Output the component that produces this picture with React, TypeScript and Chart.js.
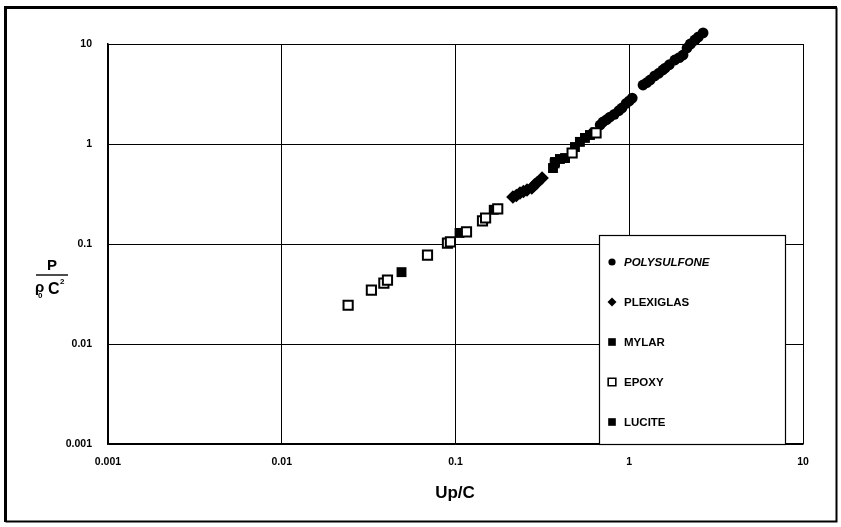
import React, { useEffect, useRef } from "react";
import { Chart, registerables } from "chart.js";

Chart.register(...registerables);

// Axis ticks (decades on both log axes)
const tickValues = [0.001, 0.01, 0.1, 1, 10];
const tickLabels = ["0.001", "0.01", "0.1", "1", "10"];

// Normalised shock data: Up/C versus P/(rho0 C^2)
const polysulfoneX = [0.62, 0.68, 0.706, 0.74, 0.774, 0.82, 0.87, 0.908, 0.96, 1.0, 1.04, 1.2, 1.26, 1.32, 1.4, 1.48, 1.56, 1.61, 1.7, 1.83, 1.94, 2.04, 2.15, 2.25, 2.39, 2.5, 2.66];
const polysulfoneY = [1.3, 1.55, 1.66, 1.75, 1.86, 1.98, 2.15, 2.29, 2.55, 2.7, 2.88, 3.89, 4.1, 4.37, 4.8, 5.1, 5.5, 5.75, 6.2, 6.92, 7.3, 7.76, 9.12, 10.0, 10.96, 11.8, 12.9];

const plexiglasX = [0.214, 0.224, 0.235, 0.246, 0.258, 0.275, 0.285, 0.294, 0.315];
const plexiglasY = [0.295, 0.305, 0.324, 0.335, 0.347, 0.363, 0.39, 0.407, 0.457];

const mylarX = [0.364, 0.372, 0.374, 0.399, 0.427, 0.487, 0.52, 0.556, 0.594];
const mylarY = [0.575, 0.64, 0.661, 0.708, 0.724, 0.933, 1.05, 1.15, 1.23];

const epoxyX = [0.0241, 0.0328, 0.0387, 0.0406, 0.069, 0.0899, 0.0935, 0.1157, 0.143, 0.149, 0.175, 0.469, 0.644];
const epoxyY = [0.0244, 0.0345, 0.0406, 0.0435, 0.0775, 0.102, 0.105, 0.132, 0.17, 0.182, 0.225, 0.813, 1.29];

const luciteX = [0.0489, 0.1055, 0.166];
const luciteY = [0.0523, 0.129, 0.22];

const FONT = "'Liberation Sans', Arial, Helvetica, sans-serif";

const pts = (xs: number[], ys: number[]) => xs.map((x, i) => ({ x, y: ys[i] }));

const tickCallback = (value: number | string) => {
  const v = Number(value);
  const i = tickValues.findIndex((t) => Math.abs(Math.log10(t) - Math.log10(v)) < 1e-6);
  return i >= 0 ? tickLabels[i] : "";
};

const setDecadeTicks = (scale: any) => {
  scale.ticks = tickValues.map((value) => ({ value }));
};

function drawMarker(ctx: CanvasRenderingContext2D, ds: any, x: number, y: number, r: number) {
  ctx.save();
  ctx.fillStyle = ds.pointBackgroundColor;
  ctx.strokeStyle = ds.pointBorderColor;
  ctx.lineWidth = ds.pointBorderWidth;
  ctx.beginPath();
  if (ds.pointStyle === "circle") {
    ctx.arc(x, y, r, 0, Math.PI * 2);
  } else if (ds.pointStyle === "rectRot") {
    ctx.moveTo(x, y - r);
    ctx.lineTo(x + r, y);
    ctx.lineTo(x, y + r);
    ctx.lineTo(x - r, y);
    ctx.closePath();
  } else {
    const s = r * Math.SQRT1_2;
    ctx.rect(x - s, y - s, s * 2, s * 2);
  }
  ctx.fill();
  if (ds.pointBorderWidth) ctx.stroke();
  ctx.restore();
}

// marker radius used for each entry in the legend box
const legendRadius: Record<string, number> = { circle: 3.6, rectRot: 4.5, rect: 5.4 };

const decorations = {
  id: "decorations",
  beforeDraw(chart: any) {
    const ctx: CanvasRenderingContext2D = chart.ctx;
    ctx.save();
    ctx.fillStyle = "#fff";
    ctx.fillRect(0, 0, chart.width, chart.height);
    ctx.restore();
  },
  afterDatasetsDraw(chart: any) {
    const ctx: CanvasRenderingContext2D = chart.ctx;
    const area = chart.chartArea;

    // points that rise above the top of the plot (positions from the chart's own scales)
    chart.data.datasets.forEach((ds: any, di: number) => {
      const meta = chart.getDatasetMeta(di);
      meta.data.forEach((el: any) => {
        if (el.y < area.top + 1) drawMarker(ctx, ds, el.x, el.y, ds.pointRadius);
      });
    });

    // legend box inside the plot
    const bx = 599, by = 235, bw = 186, bh = area.bottom - 235;
    ctx.save();
    ctx.fillStyle = "#fff";
    ctx.fillRect(bx, by, bw, bh);
    ctx.strokeStyle = "#000";
    ctx.lineWidth = 1.2;
    ctx.strokeRect(bx + 0.5, by + 0.5, bw, bh);
    const rows = [262, 302, 342, 382, 422];
    chart.data.datasets.forEach((ds: any, i: number) => {
      const y = rows[i];
      const r = legendRadius[ds.pointStyle] ?? 4.5;
      drawMarker(ctx, { ...ds, pointBorderWidth: ds.pointBorderWidth ? 1.6 : 0 }, 612, y, r);
      ctx.fillStyle = "#000";
      ctx.textBaseline = "middle";
      ctx.textAlign = "left";
      ctx.font = (i === 0 ? "italic " : "") + "bold 11.5px " + FONT;
      ctx.fillText(ds.label, 624, y + 0.5);
    });
    ctx.restore();

    // axis titles
    ctx.save();
    ctx.fillStyle = "#000";
    ctx.textBaseline = "alphabetic";
    ctx.textAlign = "center";
    ctx.font = "bold 17px " + FONT;
    ctx.fillText("Up/C", (area.left + area.right) / 2 - 0.5, 498);

    ctx.font = "bold 15px " + FONT;
    ctx.fillText("P", 52, 270);
    ctx.strokeStyle = "#000";
    ctx.lineWidth = 1.4;
    ctx.beginPath();
    ctx.moveTo(36, 275);
    ctx.lineTo(68, 275);
    ctx.stroke();
    ctx.textAlign = "left";
    ctx.font = "bold 15px " + FONT;
    ctx.fillText("\u03c1", 35, 292);
    ctx.font = "bold 8px " + FONT;
    ctx.fillText("0", 38, 298);
    ctx.font = "bold 16px " + FONT;
    ctx.fillText("C", 48, 294);
    ctx.font = "bold 8px " + FONT;
    ctx.fillText("2", 60, 284);
    ctx.restore();

    // outer frame
    ctx.save();
    ctx.strokeStyle = "#000";
    ctx.lineWidth = 3;
    ctx.beginPath();
    ctx.moveTo(5.5, chart.height - 5);
    ctx.lineTo(5.5, 7.5);
    ctx.lineTo(chart.width - 4, 7.5);
    ctx.stroke();
    ctx.lineWidth = 2;
    ctx.beginPath();
    ctx.moveTo(chart.width - 4.5, 7.5);
    ctx.lineTo(chart.width - 4.5, chart.height - 5.5);
    ctx.lineTo(5.5, chart.height - 5.5);
    ctx.stroke();
    ctx.restore();
  },
};

export default function App() {
  const canvasRef = useRef<HTMLCanvasElement | null>(null);

  useEffect(() => {
    if (!canvasRef.current) return;
    const filled = (label: string, style: string, xs: number[], ys: number[], r: number, order: number) => ({
      label,
      data: pts(xs, ys),
      pointStyle: style,
      pointRadius: r,
      pointBackgroundColor: "#000",
      pointBorderColor: "#000",
      pointBorderWidth: 0,
      showLine: false,
      clip: false as any,
      order,
    });
    const chart = new Chart(canvasRef.current, {
      type: "scatter",
      data: {
        datasets: [
          filled("POLYSULFONE", "circle", polysulfoneX, polysulfoneY, 5.4, 3),
          filled("PLEXIGLAS", "rectRot", plexiglasX, plexiglasY, 6.8, 2),
          filled("MYLAR", "rect", mylarX, mylarY, 7, 2),
          {
            label: "EPOXY",
            data: pts(epoxyX, epoxyY),
            pointStyle: "rect",
            pointRadius: 6.5,
            pointBackgroundColor: "#fff",
            pointBorderColor: "#000",
            pointBorderWidth: 2,
            showLine: false,
            clip: false as any,
            order: 0,
          },
          filled("LUCITE", "rect", luciteX, luciteY, 7, 1),
        ] as any,
      },
      options: {
        responsive: false,
        animation: false,
        events: [],
        layout: { padding: { left: 0, right: 38, top: 44, bottom: 0 } },
        plugins: { legend: { display: false }, tooltip: { enabled: false } },
        scales: {
          x: {
            type: "logarithmic",
            min: 0.001,
            max: 10,
            afterBuildTicks: setDecadeTicks,
            afterFit: (s: any) => {
              s.height = 83;
            },
            grid: { color: "#000", lineWidth: 1, drawTicks: false },
            border: { color: "#000", width: 1.5 },
            ticks: {
              padding: 12,
              autoSkip: false,
              maxRotation: 0,
              color: "#000",
              font: { family: FONT, weight: "bold", size: 10.5 },
              callback: tickCallback,
            },
          },
          y: {
            type: "logarithmic",
            min: 0.001,
            max: 10,
            afterBuildTicks: setDecadeTicks,
            afterFit: (s: any) => {
              s.width = 108;
            },
            grid: { color: "#000", lineWidth: 1, drawTicks: false },
            border: { color: "#000", width: 1.5 },
            ticks: {
              padding: 16,
              autoSkip: false,
              color: "#000",
              font: { family: FONT, weight: "bold", size: 10.5 },
              callback: tickCallback,
            },
          },
        },
      } as any,
      plugins: [decorations],
    });
    return () => chart.destroy();
  }, []);

  return (
    <div style={{ position: "fixed", left: 0, top: 0, width: 841, height: 527, background: "#fff" }}>
      <canvas ref={canvasRef} width={841} height={527} style={{ display: "block" }} />
    </div>
  );
}
